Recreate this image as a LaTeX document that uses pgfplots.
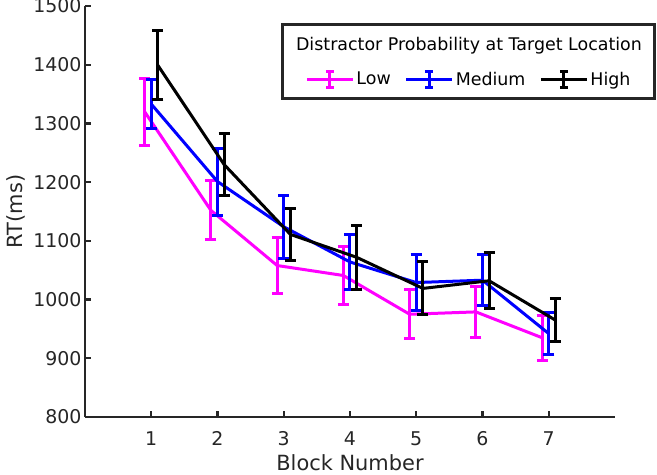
\documentclass[border=0pt]{standalone}
\usepackage{fontspec}
\setmainfont{DejaVu Sans}
\usepackage{pgfplots}
\pgfplotsset{compat=1.18}
\usetikzlibrary{calc}
\definecolor{axgray}{HTML}{262626}
\definecolor{lowc}{RGB}{255,0,255}
\definecolor{medc}{RGB}{0,0,255}

\begin{document}
\begin{tikzpicture}
  \begin{axis}[
    name=ax,
    scale only axis,
    width=530bp, height=411bp,
    xmin=0, xmax=8, ymin=800, ymax=1500,
    xtick={1,...,7}, ytick={800,900,...,1500},
    axis x line=bottom, axis y line=left,
    axis line style={-, axgray, line width=2.6bp},
    tick style={axgray, line width=2.2bp},
    tick align=inside,
    major tick length=6bp,
    clip=false,
    ticklabel style={font=\fontsize{19}{22}\selectfont, text=axgray},
    xticklabel style={yshift=-11bp},
    /pgf/number format/assume math mode=true,
    /pgf/number format/1000 sep={},
    xlabel={Block Number}, ylabel={RT(ms)},
    label style={font=\fontsize{21}{24}\selectfont, text=axgray},
    xlabel style={yshift=-2bp},
    ylabel style={yshift=1bp},
    every axis plot/.append style={line width=3bp},
    error bars/error bar style={line width=3bp},
    error bars/error mark options={rotate=90, mark size=5.5bp, line width=3bp},
    legend style={at={(rel axis cs:0.7245,0.822)}, anchor=center,
      draw=none, fill=none, legend columns=3,
      font=\fontsize{17.5}{20}\selectfont,
      /tikz/every even column/.append style={column sep=12bp}},
    legend image code/.code={
      \draw[#1] (0bp,0bp) -- (46bp,0bp);
      \draw[#1] (23bp,-8bp) -- (23bp,8bp);
      \draw[#1] (19bp,8bp) -- (27bp,8bp);
      \draw[#1] (19bp,-8bp) -- (27bp,-8bp);
    },
  ]
    % legend frame and title
    \draw[axgray, line width=3bp, fill=white]
      (rel axis cs:0.372,0.956) rectangle (rel axis cs:1.075,0.776);
    \node[font=\fontsize{17.5}{20}\selectfont, text=black]
      at (rel axis cs:0.7245,0.903) {Distractor Probability at Target Location};

    \addplot[lowc, error bars/.cd, y dir=both, y explicit] coordinates {
      (0.9,1320) +- (0,57)
      (1.9,1152) +- (0,50)
      (2.9,1058) +- (0,48)
      (3.9,1041) +- (0,50)
      (4.9,975)  +- (0,42)
      (5.9,979)  +- (0,43)
      (6.9,935)  +- (0,38)
    };
    \addlegendentry{Low}
    \addplot[medc, error bars/.cd, y dir=both, y explicit] coordinates {
      (1,1333) +- (0,42)
      (2,1201) +- (0,57)
      (3,1124) +- (0,54)
      (4,1064) +- (0,46)
      (5,1029) +- (0,48)
      (6,1033) +- (0,43)
      (7,942)  +- (0,36)
    };
    \addlegendentry{Medium}
    \addplot[black, error bars/.cd, y dir=both, y explicit] coordinates {
      (1.1,1399) +- (0,59)
      (2.1,1230) +- (0,52)
      (3.1,1111) +- (0,44)
      (4.1,1072) +- (0,55)
      (5.1,1019) +- (0,45)
      (6.1,1032) +- (0,48)
      (7.1,965)  +- (0,37)
    };
    \addlegendentry{High}
  \end{axis}
  \pgfresetboundingbox
  \useasboundingbox ($(ax.south west)+(-85bp,-58bp)$) rectangle ($(ax.south west)+(572bp,417bp)$);
\end{tikzpicture}
\end{document}
